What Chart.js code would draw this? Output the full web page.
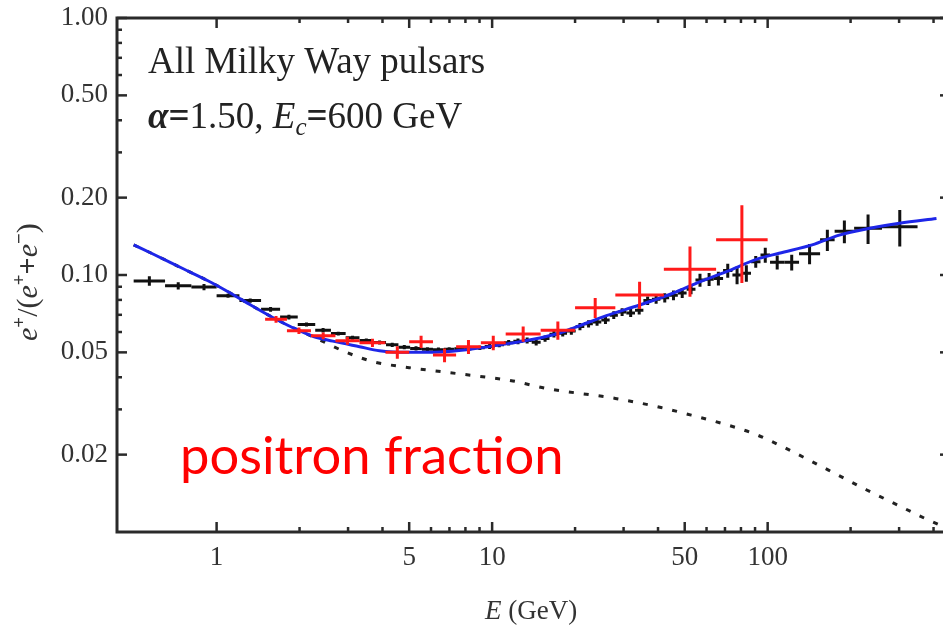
<!DOCTYPE html>
<html>
<head>
<meta charset="utf-8">
<script src="https://cdn.jsdelivr.net/npm/chart.js@4.4.1/dist/chart.umd.min.js"></script>
<style>
  html, body { margin: 0; padding: 0; background: #fff; overflow: hidden; }
  canvas { display: block; }
</style>
</head>
<body>
<canvas id="c" width="953" height="625"></canvas>
<script>
// Total positron fraction: secondaries plus all Milky Way pulsars (GeV, fraction)
const modelEnergy   = [0.5, 0.58, 0.76, 0.93, 1.1, 1.33, 1.58, 1.86, 2.26, 2.64, 3.3, 3.9, 5.0, 6.45, 8.06, 10.6, 14.1, 17.6, 20, 26, 34.3, 45.3, 56.6, 70.8, 91, 110, 145, 182, 235, 301, 410];
const modelFraction = [0.131, 0.1215, 0.1055, 0.0950, 0.0861, 0.0764, 0.0688, 0.0629, 0.0575, 0.0553, 0.0526, 0.0507, 0.0500, 0.0502, 0.0512, 0.0534, 0.0562, 0.0595, 0.0625, 0.0695, 0.0764, 0.0849, 0.0940, 0.1030, 0.1150, 0.1215, 0.1310, 0.1430, 0.1520, 0.1590, 0.1660];

// Secondary-only background
const bgEnergy   = [0.5, 0.58, 0.76, 0.93, 1.1, 1.33, 1.58, 1.86, 2.26, 2.96, 3.7, 5.0, 6.6, 8.75, 11.9, 15.7, 28, 41, 52.8, 68.8, 88.6, 112, 142, 181, 228, 289, 372, 460];
const bgFraction = [0.131, 0.1215, 0.1055, 0.0950, 0.0861, 0.0764, 0.0688, 0.0629, 0.0572, 0.0500, 0.0460, 0.0436, 0.0420, 0.0405, 0.0387, 0.0362, 0.0331, 0.0305, 0.0285, 0.0264, 0.0242, 0.0216, 0.0190, 0.0166, 0.0146, 0.0129, 0.0113, 0.0102];

// AMS-02 positron fraction: bin edges (GeV), value, error
const amsLow  = [0.50, 0.65, 0.81, 1.00, 1.21, 1.45, 1.70, 1.97, 2.28, 2.60, 2.94, 3.30, 3.70, 4.12, 4.57, 5.04, 5.56, 6.10, 6.68, 7.30, 7.96, 8.66, 9.40, 10.20, 11.04, 11.94, 12.90, 13.92, 15.00, 16.15, 17.40, 18.70, 20.10, 21.60, 23.20, 24.90, 26.70, 28.60, 30.70, 33.0, 35.4, 38.0, 40.8, 43.9, 47.2, 50.8, 54.7, 59.0, 63.7, 68.9, 74.5, 80.5, 87.0, 94.2, 102, 115, 130, 155, 175, 206, 260];
const amsHigh = [0.65, 0.81, 1.00, 1.21, 1.45, 1.70, 1.97, 2.28, 2.60, 2.94, 3.30, 3.70, 4.12, 4.57, 5.04, 5.56, 6.10, 6.68, 7.30, 7.96, 8.66, 9.40, 10.20, 11.04, 11.94, 12.90, 13.92, 15.00, 16.15, 17.40, 18.70, 20.10, 21.60, 23.20, 24.90, 26.70, 28.60, 30.70, 33.0, 35.4, 38.0, 40.8, 43.9, 47.2, 50.8, 54.7, 59.0, 63.7, 68.9, 74.5, 80.5, 87.0, 94.2, 102, 115, 130, 155, 175, 206, 260, 350];
const amsFraction = [0.0948, 0.0908, 0.0898, 0.0830, 0.0795, 0.0735, 0.0686, 0.0642, 0.0610, 0.0592, 0.0570, 0.0556, 0.0546, 0.0535, 0.0524, 0.0518, 0.0514, 0.0512, 0.0514, 0.0517, 0.0518, 0.0521, 0.0527, 0.0535, 0.0545, 0.0552, 0.0556, 0.0547, 0.0566, 0.0588, 0.0594, 0.0605, 0.0630, 0.0646, 0.0656, 0.0668, 0.0698, 0.0718, 0.0712, 0.0730, 0.0795, 0.0805, 0.0815, 0.0834, 0.0852, 0.0881, 0.0956, 0.0962, 0.0970, 0.1040, 0.1000, 0.1016, 0.1126, 0.1196, 0.1120, 0.1120, 0.1210, 0.1370, 0.1480, 0.1520, 0.1540];
const amsError = [0.004, 0.003, 0.0025, 0.0015, 0.0015, 0.0015, 0.0015, 0.0012, 0.0012, 0.001, 0.001, 0.001, 0.001, 0.001, 0.001, 0.001, 0.001, 0.001, 0.001, 0.001, 0.001, 0.001, 0.0012, 0.0012, 0.0013, 0.0014, 0.0015, 0.0015, 0.0016, 0.0017, 0.0018, 0.0019, 0.002, 0.0021, 0.0022, 0.0023, 0.0024, 0.0025, 0.0026, 0.0028, 0.003, 0.0032, 0.0034, 0.0036, 0.0038, 0.004, 0.0055, 0.0055, 0.006, 0.0065, 0.008, 0.0075, 0.006, 0.008, 0.007, 0.008, 0.011, 0.013, 0.015, 0.020, 0.025];

// PAMELA positron fraction: bin edges (GeV), value, lower / upper error
const pamLow  = [1.5, 1.8, 2.2, 2.7, 3.3, 4.1, 5.0, 6.1, 7.4, 9.1, 11.2, 15.0, 20.0, 28.0, 42.0, 65.0];
const pamHigh = [1.8, 2.2, 2.7, 3.3, 4.1, 5.0, 6.1, 7.4, 9.1, 11.2, 15.0, 20.0, 28.0, 42.0, 65.0, 100.0];
const pamFraction = [0.0672, 0.0607, 0.0580, 0.0555, 0.0545, 0.0500, 0.0550, 0.0488, 0.0526, 0.0545, 0.0590, 0.0610, 0.0746, 0.0836, 0.1052, 0.1370];
const pamErrLow  = [0.002, 0.0018, 0.0018, 0.002, 0.002, 0.0028, 0.003, 0.003, 0.0033, 0.0035, 0.004, 0.005, 0.0066, 0.0098, 0.0229, 0.044];
const pamErrHigh = [0.002, 0.0018, 0.0018, 0.002, 0.002, 0.0028, 0.003, 0.003, 0.0033, 0.0035, 0.004, 0.005, 0.0068, 0.0105, 0.0240, 0.050];

// Axis ticks
const xMajorTicks = [1, 5, 10, 50, 100];
const xMinorTicks = [2, 3, 4, 6, 7, 8, 9, 20, 30, 40, 60, 70, 80, 90, 200, 300, 400];
const yMajorTicks = [1, 0.5, 0.2, 0.1, 0.05, 0.02];
const yMinorTicks = [0.9, 0.8, 0.7, 0.6, 0.4, 0.3, 0.09, 0.08, 0.07, 0.06, 0.04, 0.03];

const SERIF = '"Liberation Serif", "Times New Roman", serif';

function binPoints(lo, hi, val, eLo, eHi) {
  return val.map((v, i) => ({
    x: Math.sqrt(lo[i] * hi[i]), y: v,
    xMin: lo[i], xMax: hi[i], yMin: v - eLo[i], yMax: v + eHi[i]
  }));
}

// Draws the error crosses of every dataset flagged for the given layer
function drawCrosses(chart, layer) {
  const { ctx, chartArea: a, scales: { x, y } } = chart;
  ctx.save();
  ctx.beginPath();
  ctx.rect(a.left, a.top, a.right - a.left, a.bottom - a.top);
  ctx.clip();
  chart.data.datasets.forEach(ds => {
    if (ds.crossLayer !== layer) return;
    ctx.strokeStyle = ds.borderColor;
    ctx.lineWidth = ds.crossWidth;
    ctx.lineCap = 'butt';
    ds.data.forEach(p => {
      const px = x.getPixelForValue(p.x), py = y.getPixelForValue(p.y);
      ctx.beginPath();
      ctx.moveTo(x.getPixelForValue(p.xMin), py);
      ctx.lineTo(x.getPixelForValue(p.xMax), py);
      ctx.moveTo(px, y.getPixelForValue(p.yMin));
      ctx.lineTo(px, y.getPixelForValue(p.yMax));
      ctx.stroke();
    });
  });
  ctx.restore();
}

const crossPlugin = {
  id: 'crosses',
  beforeDatasetsDraw(chart) { drawCrosses(chart, 'below'); },
  afterDatasetsDraw(chart) { drawCrosses(chart, 'above'); }
};

// Frame with inward ticks on all four sides
const framePlugin = {
  id: 'frame',
  afterDraw(chart) {
    const { ctx, chartArea: a, scales: { x, y } } = chart;
    ctx.save();
    ctx.strokeStyle = '#2a2a2a';
    ctx.lineWidth = 2.5;
    const seg = (x1, y1, x2, y2) => { ctx.beginPath(); ctx.moveTo(x1, y1); ctx.lineTo(x2, y2); ctx.stroke(); };
    const xt = (v, len) => { const p = x.getPixelForValue(v); seg(p, a.bottom, p, a.bottom - len); seg(p, a.top, p, a.top + len); };
    const yt = (v, len) => { const p = y.getPixelForValue(v); seg(a.left, p, a.left + len, p); seg(a.right, p, a.right - len, p); };
    xMajorTicks.forEach(v => xt(v, 10));
    xMinorTicks.forEach(v => xt(v, 5));
    yMajorTicks.forEach(v => yt(v, 10));
    yMinorTicks.forEach(v => yt(v, 5));
    ctx.lineWidth = 3;
    ctx.strokeRect(a.left, a.top, a.right - a.left, a.bottom - a.top);
    ctx.restore();
  }
};

// Runs of text in mixed styles along one baseline
function drawRuns(ctx, runs, x0, y0) {
  let x = x0;
  runs.forEach(r => {
    ctx.font = r.font;
    ctx.fillText(r.t, x, y0 + (r.dy || 0));
    x += ctx.measureText(r.t).width + (r.gap || 0);
  });
  return x;
}

const textPlugin = {
  id: 'texts',
  afterDraw(chart) {
    const { ctx } = chart;
    ctx.save();
    ctx.textAlign = 'left';
    ctx.textBaseline = 'alphabetic';
    ctx.fillStyle = '#222';

    ctx.font = '37px ' + SERIF;
    ctx.fillText('All Milky Way pulsars', 148, 73);

    drawRuns(ctx, [
      { t: 'α', font: 'italic bold 37px ' + SERIF },
      { t: '=', font: 'bold 37px ' + SERIF },
      { t: '1.50, ', font: '37px ' + SERIF },
      { t: 'E', font: 'italic 37px ' + SERIF },
      { t: 'c', font: 'italic 25px ' + SERIF, dy: 7 },
      { t: '=', font: 'bold 37px ' + SERIF },
      { t: '600 GeV', font: '37px ' + SERIF }
    ], 148, 128);

    // x-axis title
    ctx.fillStyle = '#333';
    drawRuns(ctx, [
      { t: 'E', font: 'italic 27px ' + SERIF },
      { t: ' (GeV)', font: '27px ' + SERIF }
    ], 485, 619);

    // y-axis title, rotated
    ctx.save();
    ctx.translate(37, 341);
    ctx.rotate(-Math.PI / 2);
    drawRuns(ctx, [
      { t: 'e', font: 'italic 30px ' + SERIF },
      { t: '+', font: 'bold 19px ' + SERIF, dy: -12 },
      { t: '/(', font: '30px ' + SERIF },
      { t: 'e', font: 'italic 30px ' + SERIF },
      { t: '+', font: 'bold 19px ' + SERIF, dy: -12 },
      { t: '+', font: 'bold 30px ' + SERIF },
      { t: 'e', font: 'italic 30px ' + SERIF },
      { t: '−', font: 'bold 19px ' + SERIF, dy: -12 },
      { t: ')', font: '30px ' + SERIF }
    ], 0, 0);
    ctx.restore();

    ctx.fillStyle = '#ff0000';
    ctx.font = '52.5px Lato, "Noto Sans", sans-serif';
    ctx.fillText('positron fraction', 180, 474);
    ctx.restore();
  }
};

const tickFont = { family: SERIF, size: 27 };

new Chart(document.getElementById('c'), {
  type: 'scatter',
  data: {
    datasets: [
      {
        label: 'PAMELA',
        data: binPoints(pamLow, pamHigh, pamFraction, pamErrLow, pamErrHigh),
        borderColor: '#ff1a1a', pointRadius: 0, showLine: false,
        crossLayer: 'above', crossWidth: 3
      },
      {
        label: 'Total',
        data: modelEnergy.map((e, i) => ({ x: e, y: modelFraction[i] })),
        showLine: true, borderColor: 'rgb(30,38,232)', borderWidth: 3,
        pointRadius: 0, cubicInterpolationMode: 'monotone', fill: false
      },
      {
        label: 'Secondary',
        data: bgEnergy.map((e, i) => ({ x: e, y: bgFraction[i] })),
        showLine: true, borderColor: '#222', borderWidth: 3, borderDash: [5, 10],
        borderCapStyle: 'butt', pointRadius: 0, cubicInterpolationMode: 'monotone', fill: false
      },
      {
        label: 'AMS-02',
        data: binPoints(amsLow, amsHigh, amsFraction, amsError, amsError),
        borderColor: '#111', pointRadius: 0, showLine: false,
        crossLayer: 'below', crossWidth: 3
      }
    ]
  },
  options: {
    responsive: false,
    animation: false,
    devicePixelRatio: 1,
    layout: { padding: { top: 18, right: 3, left: 0, bottom: 0 } },
    plugins: { legend: { display: false }, tooltip: { enabled: false } },
    scales: {
      x: {
        type: 'logarithmic', min: 0.435, max: 459,
        afterFit(s) { s.height = 93; s.paddingLeft = 0; s.paddingRight = 0; },
        afterBuildTicks(s) { s.ticks = xMajorTicks.map(v => ({ value: v })); },
        grid: { display: false, drawTicks: false },
        border: { display: false },
        ticks: {
          font: tickFont, color: '#333', padding: 10, autoSkip: false, maxRotation: 0,
          callback: v => String(v)
        }
      },
      y: {
        type: 'logarithmic', min: 0.01, max: 1,
        afterFit(s) { s.width = 117; s.paddingTop = 0; s.paddingBottom = 0; },
        afterBuildTicks(s) { s.ticks = yMajorTicks.map(v => ({ value: v })); },
        grid: { display: false, drawTicks: false },
        border: { display: false },
        ticks: {
          font: tickFont, color: '#333', padding: 9, autoSkip: false,
          callback: v => Number(v).toFixed(2)
        }
      }
    }
  },
  plugins: [crossPlugin, framePlugin, textPlugin]
});
</script>
</body>
</html>
